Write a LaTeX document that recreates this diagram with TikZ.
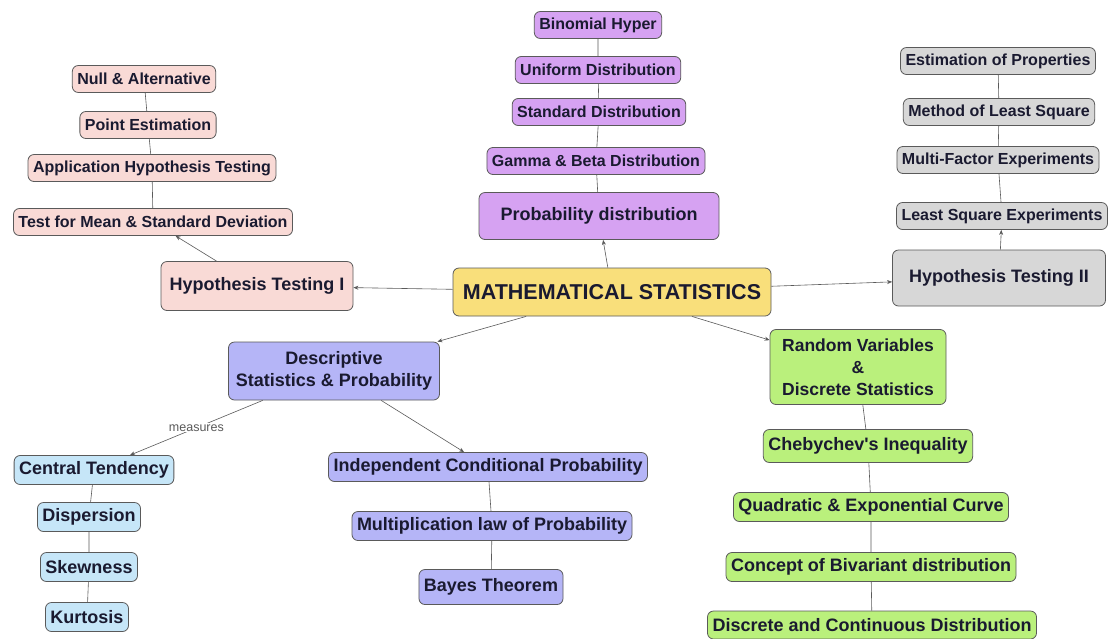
\documentclass[tikz,border=0pt]{standalone}
\usepackage{fontspec}
\setmainfont{Liberation Sans}[Ligatures=TeXOff]
\usetikzlibrary{positioning,arrows.meta}
\definecolor{Ink}{HTML}{1A1A30}
\definecolor{Wire}{HTML}{5A5A5A}
\definecolor{Sun}{HTML}{F9DF7B}
\definecolor{Lilac}{HTML}{D6A2F2}
\definecolor{Blush}{HTML}{F9DAD6}
\definecolor{Ash}{HTML}{D7D7D7}
\definecolor{Lavender}{HTML}{B5B5F7}
\definecolor{Sky}{HTML}{C6E6F8}
\definecolor{Lime}{HTML}{BAF07C}
\tikzset{
  box/.style={draw=Wire,line width=0.8pt,rounded corners=6pt,text=Ink,
    inner xsep=5pt,inner ysep=2pt,align=center},
  smallbox/.style={box,minimum height=27pt,font=\fontsize{16}{19}\selectfont\bfseries},
  midbox/.style={box,minimum height=29pt,font=\fontsize{18}{22}\selectfont\bfseries},
  bigbox/.style={box,font=\fontsize{18}{22}\selectfont\bfseries},
  link/.style={draw=Wire,line width=0.6pt},
  arrowlink/.style={link,-{Stealth[length=5pt,width=4pt]}}
}
\begin{document}
\begin{tikzpicture}[x=1pt,y=-1pt]
    \useasboundingbox[fill=white] (0,0) rectangle (1110,638);
    % centre
    \node[box,fill=Sun,minimum width=318pt,minimum height=48pt,
      font=\fontsize{21.5}{24}\selectfont\bfseries] (ms) at (612,292) {MATHEMATICAL STATISTICS};
    % probability distribution branch
    \node[bigbox,fill=Lilac,minimum width=240pt,minimum height=47pt] (prob) at (599,216) {Probability distribution};
    \foreach \nm/\xx/\yy/\txt in {bin/598/25/Binomial Hyper,
      uni/598/70/Uniform Distribution,
      std/599/112/Standard Distribution,
      gam/596/161/Gamma \& Beta Distribution}
      \node[smallbox,fill=Lilac] (\nm) at (\xx,\yy) {\txt};
    \draw[link] (bin) -- (uni) -- (std) -- (gam) -- (prob);
    % hypothesis testing I branch
    \node[bigbox,fill=Blush,minimum width=192pt,minimum height=49pt] (htone) at (257,286) {Hypothesis Testing I};
    \foreach \nm/\xx/\yy/\txt in {null/144/79/Null \& Alternative,
      point/148/125/Point Estimation,
      appl/152/168/Application Hypothesis Testing,
      mean/153/222/Test for Mean \& Standard Deviation}
      \node[smallbox,fill=Blush] (\nm) at (\xx,\yy) {\txt};
    \draw[link] (null) -- (point) -- (appl) -- (mean);
    \draw[arrowlink] (htone) -- (mean);
    % hypothesis testing II branch
    \node[bigbox,fill=Ash,minimum width=213pt,minimum height=56pt] (httwo) at (999,278) {Hypothesis Testing II};
    \foreach \nm/\xx/\yy/\txt in {estim/998/61/Estimation of Properties,
      least/999/112/Method of Least Square,
      multi/998/160/Multi-Factor Experiments,
      lsexp/1002/216/Least Square Experiments}
      \node[smallbox,fill=Ash] (\nm) at (\xx,\yy) {\txt};
    \draw[link] (estim) -- (least) -- (multi) -- (lsexp);
    \draw[arrowlink] (httwo) -- (lsexp);
    % descriptive statistics branch
    \node[bigbox,fill=Lavender,minimum width=211pt,minimum height=58pt] (desc) at (334,371) {Descriptive\\Statistics \& Probability};
    \foreach \nm/\xx/\yy/\txt in {central/94/470/Central Tendency,
      disp/89/517/Dispersion,
      skew/89/567/Skewness,
      kurt/87/617/Kurtosis}
      \node[midbox,fill=Sky] (\nm) at (\xx,\yy) {\txt};
    \draw[link] (central) -- (disp) -- (skew) -- (kurt);
    \draw[arrowlink] (desc) -- node[fill=white,text=Wire,inner sep=1pt,
      font=\fontsize{12.5}{14}\selectfont] {measures} (central);
    \node[midbox,fill=Lavender] (indep) at (488,467) {Independent Conditional Probability};
    \node[midbox,fill=Lavender] (mult) at (492,526) {Multiplication law of Probability};
    \node[midbox,fill=Lavender,minimum height=35pt] (bayes) at (491,587) {Bayes Theorem};
    \draw[link] (indep) -- (mult) -- (bayes);
    \draw[arrowlink] (desc) -- (indep);
    % random variables branch
    \node[box,fill=Lime,minimum width=176pt,minimum height=75pt,
      font=\fontsize{17.5}{22}\selectfont\bfseries] (randv) at (858,367) {Random Variables\\\&\\Discrete Statistics};
    \node[midbox,fill=Lime,minimum height=33pt] (cheby) at (868,446) {Chebychev's Inequality};
    \node[midbox,fill=Lime] (quad) at (871,507) {Quadratic \& Exponential Curve};
    \node[midbox,fill=Lime] (bivar) at (871,567) {Concept of Bivariant distribution};
    \node[midbox,fill=Lime,minimum height=28pt] (disc) at (872,625) {Discrete and Continuous Distribution};
    \draw[link] (randv) -- (cheby) -- (quad) -- (bivar) -- (disc);
    % links from the centre
    \draw[arrowlink] (ms) -- (prob);
    \draw[arrowlink] (ms) -- (htone);
    \draw[arrowlink] (ms) -- (httwo);
    \draw[arrowlink] (ms) -- (desc);
    \draw[arrowlink] (ms) -- (randv);
\end{tikzpicture}
\end{document}
